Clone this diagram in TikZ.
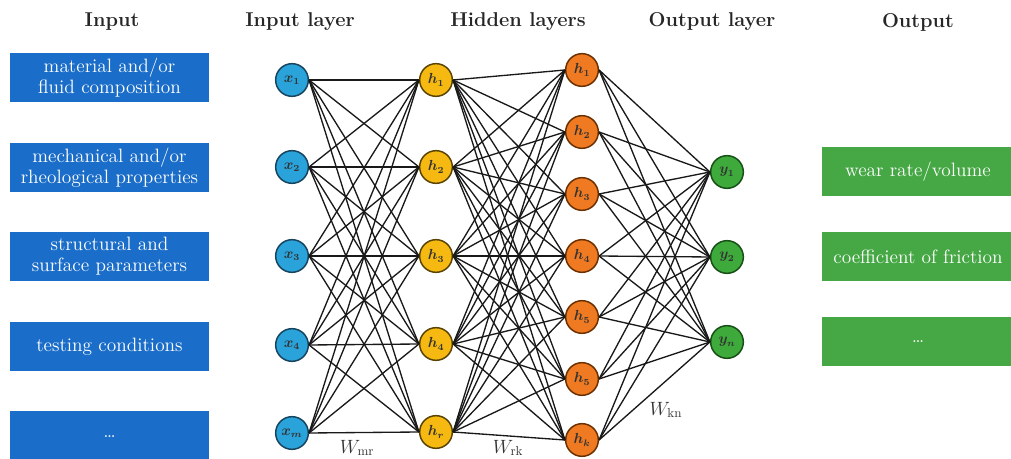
\documentclass[tikz,border=0pt]{standalone}
\usepackage{fontspec}
\begin{document}
\begin{tikzpicture}[x=0.75pt,y=-0.75pt,
  title/.style={font=\fontsize{15pt}{17pt}\selectfont\bfseries, text=black!85},
  btext/.style={text=white, align=center, font=\fontsize{14.5pt}{16pt}\selectfont},
  neuron/.style={circle, minimum size=24.5pt, inner sep=0pt, line width=1.1pt, text=black!80, font=\fontsize{10.5pt}{11pt}\selectfont\boldmath},
  nx/.style={neuron, fill=nblue, draw=nblueb},
  nh/.style={neuron, fill=nyellow, draw=nyellowb},
  nk/.style={neuron, fill=norange, draw=norangeb},
  ny/.style={neuron, fill=ngreen, draw=ngreenb},
  conn/.style={line width=1pt, draw=black!90},
  wlab/.style={font=\fontsize{14pt}{15pt}\selectfont, text=black!80}
]
\definecolor{boxblue}{HTML}{1A6DC8}
\definecolor{boxgreen}{HTML}{45A844}
\definecolor{nblue}{HTML}{2AA2DA}
\definecolor{nblueb}{HTML}{16435E}
\definecolor{nyellow}{HTML}{F5B912}
\definecolor{nyellowb}{HTML}{5A4300}
\definecolor{norange}{HTML}{F07A22}
\definecolor{norangeb}{HTML}{6A3000}
\definecolor{ngreen}{HTML}{3EAA3B}
\definecolor{ngreenb}{HTML}{174F16}
\useasboundingbox (0,0) rectangle (1011,459);

% titles
\node[title] (t1) at (112,22) {Input};
\node[title] (t2) at (300,22) {Input layer};
\node[title] (t3) at (518,22) {Hidden layers};
\node[title] (t4) at (712,22) {Output layer};
\node[title] (t5) at (918,22) {Output};

% input boxes
\path[fill=boxblue] (10,53) rectangle (209,102);
\node[btext] (b1) at (109.5,77.5) {material and/or\\fluid composition};
\path[fill=boxblue] (10,143) rectangle (209,192);
\node[btext] (b2) at (109.5,167.5) {mechanical and/or\\rheological properties};
\path[fill=boxblue] (10,232) rectangle (209,281);
\node[btext] (b3) at (109.5,256.5) {structural and\\surface parameters};
\path[fill=boxblue] (10,322) rectangle (209,371);
\node[btext] (b4) at (109.5,346.5) {testing conditions};
\path[fill=boxblue] (10,411) rectangle (209,470);
\node[btext] (b5) at (109.5,437) {\dots};

% output boxes
\path[fill=boxgreen] (822,147) rectangle (1020,196);
\node[btext] (o1) at (918,171.5) {wear rate/volume};
\path[fill=boxgreen] (822,232) rectangle (1020,281);
\node[btext] (o2) at (918,256.5) {coefficient of friction};
\path[fill=boxgreen] (822,317) rectangle (1020,366);
\node[btext] (o3) at (918,342) {\dots};

% neurons
\node[nx] (x1) at (292,80)  {$x_1$};
\node[nx] (x2) at (292,167) {$x_2$};
\node[nx] (x3) at (292,256) {$x_3$};
\node[nx] (x4) at (292,345) {$x_4$};
\node[nx] (x5) at (292,433) {$x_m$};

\node[nh] (h1) at (436,80)  {$h_1$};
\node[nh] (h2) at (436,167) {$h_2$};
\node[nh] (h3) at (436,256) {$h_3$};
\node[nh] (h4) at (436,344) {$h_4$};
\node[nh] (h5) at (436,432) {$h_r$};

\node[nk] (k1) at (582,70)  {$h_1$};
\node[nk] (k2) at (582,132) {$h_2$};
\node[nk] (k3) at (582,194) {$h_3$};
\node[nk] (k4) at (582,256) {$h_4$};
\node[nk] (k5) at (582,317) {$h_5$};
\node[nk] (k6) at (582,379) {$h_5$};
\node[nk] (k7) at (582,440) {$h_k$};

\node[ny] (y1) at (727,172) {$y_1$};
\node[ny] (y2) at (727,257) {$y_2$};
\node[ny] (y3) at (727,342) {$y_n$};

% connections
\foreach \i in {1,...,5}{\foreach \j in {1,...,5}{\draw[conn] (x\i.east) -- (h\j.west);}}
\foreach \i in {1,...,5}{\foreach \j in {1,...,7}{\draw[conn] (h\i.east) -- (k\j.west);}}
\foreach \i in {1,...,7}{\foreach \j in {1,...,3}{\draw[conn] (k\i.east) -- (y\j.west);}}

% weights
\node[wlab] (w1) at (357,448) {$W_{\mathrm{mr}}$};
\node[wlab] (w2) at (508,448) {$W_{\mathrm{rk}}$};
\node[wlab] (w3) at (666,410) {$W_{\mathrm{kn}}$};
\end{tikzpicture}
\end{document}
